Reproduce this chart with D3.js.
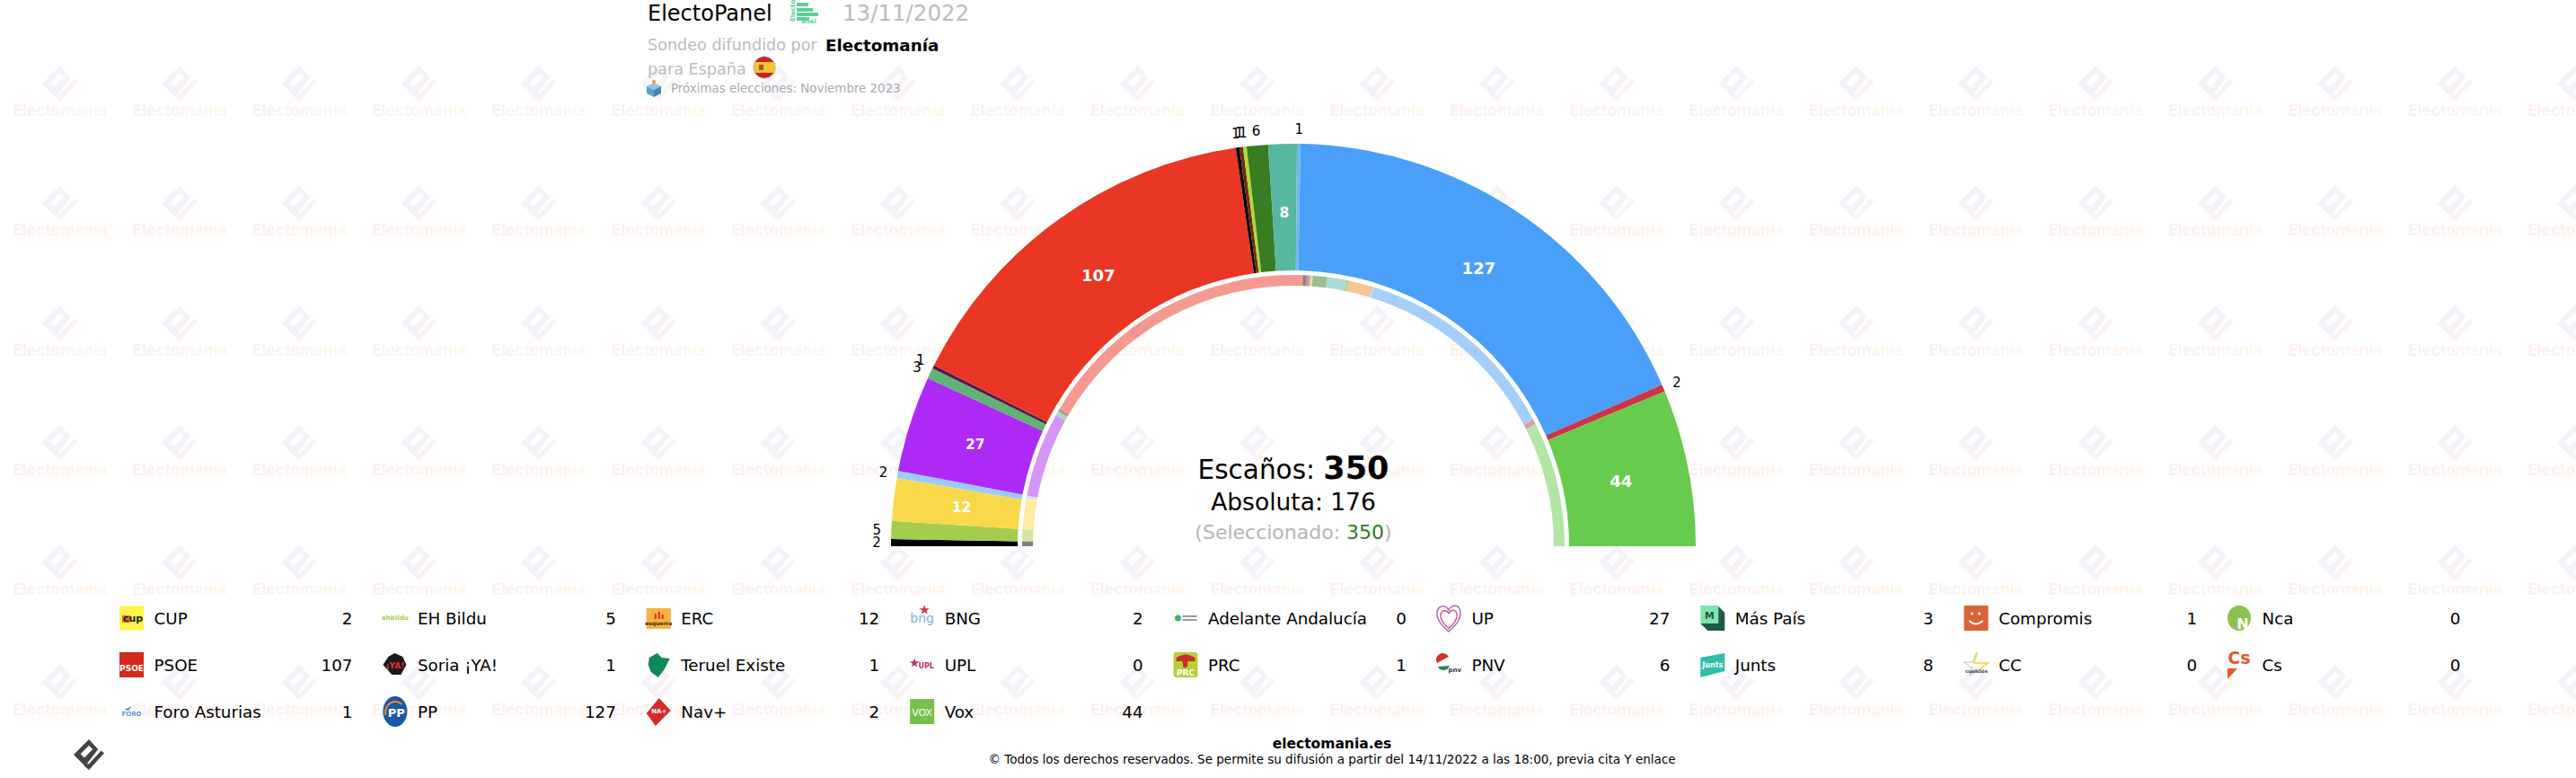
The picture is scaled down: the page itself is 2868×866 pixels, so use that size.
<!DOCTYPE html>
<html>
<head>
<meta charset="utf-8">
<title>ElectoPanel 13/11/2022</title>
<script src="https://cdn.jsdelivr.net/npm/d3@7"></script>
<style>
  html, body { margin: 0; padding: 0; background: #fff; }
  svg { display: block; }
  text { font-family: "DejaVu Sans", Verdana, sans-serif; }
</style>
</head>
<body>
<div id="chart"></div>
<script>
// Data
var parties = ["CUP", "EH Bildu", "ERC", "BNG", "Adelante Andalucía", "UP", "Más País", "Compromis", "Nca",
               "PSOE", "Soria ¡YA!", "Teruel Existe", "UPL", "PRC", "PNV", "Junts", "CC", "Cs",
               "Foro Asturias", "PP", "Nav+", "Vox"];
var seats = [2, 5, 12, 2, 0, 27, 3, 1, 0,
             107, 1, 1, 0, 1, 6, 8, 0, 0,
             1, 127, 2, 44];
// inner ring, previous election
var prevSeats = [2, 5, 13, 1, 0, 35, 2, 1, 0,
                 120, 1, 1, 1, 1, 6, 8, 1, 10,
                 1, 87, 2, 52];
var partyColors = ["#000000", "#a6cc4e", "#f9d949", "#99ccf9", "#3fb56a", "#ad2bf5", "#5fb375", "#5a1a4a", "#8cc152",
                   "#ea3624", "#000000", "#6b2c1a", "#b0297a", "#b4d92e", "#387d22", "#56b7a2", "#6f9a3c", "#f28b2c",
                   "#72b9e8", "#4a9ff8", "#cc3349", "#67cb4e"];

var width = 2868, height = 866;
var cx = 1440, cy = 608;

var svg = d3.select("#chart").append("svg")
  .attr("width", width)
  .attr("height", height);

var defs = svg.append("defs");
var wmGrad = defs.append("linearGradient").attr("id", "wmGrad");
wmGrad.append("stop").attr("offset", "0%").attr("stop-color", "#fbf0f1");
wmGrad.append("stop").attr("offset", "100%").attr("stop-color", "#fff6ec");

// logo shapes, drawn round (0,0)
var logoBox = "M0,-20L-20,0L-5,15L12,-7ZM-11,-1L0,-12L5,-7L-6,4Z";
var logoTick = "M-6,15L0,20L20,-2L16,-5L0,12L-3,12Z";

// watermark tiles
var tile = 400 / 3;
var wmCols = d3.range(0, 22), wmRows = d3.range(0, 6);
var wm = svg.append("g").attr("class", "watermark");
wmRows.forEach(function(r) {
  wmCols.forEach(function(c) {
    var g = wm.append("g").attr("transform", "translate(" + (tile / 2 + c * tile) + "," + (93 + r * tile) + ")");
    g.append("path").attr("d", logoBox).attr("fill", "#f5f2fa").attr("fill-rule", "evenodd");
    g.append("path").attr("d", logoTick).attr("fill", "#fbf3f3");
    g.append("text")
      .attr("y", 36)
      .attr("text-anchor", "middle")
      .style("font-family", "Inter, sans-serif")
      .style("font-weight", 700)
      .style("font-size", "17.5px")
      .attr("fill", "url(#wmGrad)")
      .text("Electomanía");
  });
});

// Hemicycle
var pie = d3.pie().sort(null).value(function(d) { return d; })
  .startAngle(-Math.PI / 2).endAngle(Math.PI / 2);

var outerArc = d3.arc().innerRadius(307).outerRadius(448);
var innerArc = d3.arc().innerRadius(290).outerRadius(302);
var insideArc = d3.arc().innerRadius(372).outerRadius(372);
var labelArc = d3.arc().innerRadius(464).outerRadius(464);

var chart = svg.append("g").attr("transform", "translate(" + cx + "," + cy + ")");

chart.selectAll(".prev")
  .data(pie(prevSeats))
  .enter()
  .append("path")
  .attr("class", "prev")
  .attr("d", innerArc)
  .attr("fill", function(d, i) { return partyColors[i]; })
  .attr("fill-opacity", 0.5);

chart.selectAll(".seat")
  .data(pie(seats))
  .enter()
  .append("path")
  .attr("class", "seat")
  .attr("d", outerArc)
  .attr("fill", function(d, i) { return partyColors[i]; });

// labels: big ones inside in white, the small ones outside
var seatArcs = pie(seats).filter(function(d) { return d.value > 0; });

chart.selectAll(".inLabel")
  .data(seatArcs.filter(function(d) { return d.value >= 8; }))
  .enter()
  .append("text")
  .attr("class", "inLabel")
  .attr("transform", function(d) { return "translate(" + insideArc.centroid(d) + ")"; })
  .attr("dy", "0.36em")
  .attr("text-anchor", "middle")
  .attr("fill", "#fff")
  .style("font-weight", "bold")
  .style("font-size", function(d) { return d.value >= 40 ? "18px" : "15.5px"; })
  .text(function(d) { return d.value; });

chart.selectAll(".outLabel")
  .data(seatArcs.filter(function(d) { return d.value < 8; }))
  .enter()
  .append("text")
  .attr("class", "outLabel")
  .attr("transform", function(d) { return "translate(" + labelArc.centroid(d) + ")"; })
  .attr("dy", "0.36em")
  .attr("text-anchor", "middle")
  .attr("fill", "#000")
  .style("font-size", "15px")
  .text(function(d) { return d.value; });

// Center text
var total = d3.sum(seats);
var centerText = svg.append("g").attr("text-anchor", "middle").attr("transform", "translate(" + cx + ",0)");
var t1 = centerText.append("text").attr("y", 533).style("font-size", "29.5px").attr("fill", "#000");
t1.append("tspan").text("Escaños: ");
t1.append("tspan").style("font-weight", "bold").style("font-size", "35px").text(total);
centerText.append("text").attr("y", 568).style("font-size", "26.5px").attr("fill", "#000").text("Absoluta: 176");
var t3 = centerText.append("text").attr("y", 600).style("font-size", "22px").attr("fill", "#b5b5b5");
t3.append("tspan").text("(Seleccionado: ");
t3.append("tspan").attr("fill", "#2d7d1e").text(total);
t3.append("tspan").text(")");

// Header
var header = svg.append("g");
header.append("text").attr("x", 721).attr("y", 23).style("font-size", "24px").attr("fill", "#000").text("ElectoPanel");
header.append("text").attr("x", 938).attr("y", 23).style("font-size", "24.5px").attr("fill", "#bbb").text("13/11/2022");
header.append("text").attr("x", 721).attr("y", 56).style("font-size", "17.6px").attr("fill", "#bbb").text("Sondeo difundido por");
header.append("text").attr("x", 919).attr("y", 57).style("font-size", "18.3px").style("font-weight", "bold").attr("fill", "#000").text("Electomanía");
header.append("text").attr("x", 721).attr("y", 83).style("font-size", "17.6px").attr("fill", "#bbb").text("para España");
header.append("text").attr("x", 747).attr("y", 103).style("font-size", "13.4px").attr("fill", "#aaa").text("Próximas elecciones: Noviembre 2023");

// ElectoPanel mark
var mark = header.append("g").attr("transform", "translate(879,2)").attr("fill", "#5ccf98");
[[8, 1, 13, 3], [8, 7, 18, 3], [8, 12, 24, 3], [8, 17, 14, 3]].forEach(function(b) {
  mark.append("rect").attr("x", b[0]).attr("y", b[1]).attr("width", b[2]).attr("height", b[3] + 1);
});
mark.append("text").attr("transform", "translate(6,22) rotate(-90)").style("font-size", "7px").style("font-weight", "bold").text("Electo");
mark.append("text").attr("x", 13).attr("y", 24).style("font-size", "7px").style("font-weight", "bold").text("anel");

// flag
defs.append("clipPath").attr("id", "flagClip").append("circle").attr("r", 12);
var flag = header.append("g").attr("transform", "translate(851,75)");
var flagG = flag.append("g").attr("clip-path", "url(#flagClip)");
flagG.append("rect").attr("x", -12).attr("y", -12).attr("width", 24).attr("height", 24).attr("fill", "#c8232c");
flagG.append("rect").attr("x", -12).attr("y", -6).attr("width", 24).attr("height", 12).attr("fill", "#f5c62f");
flagG.append("rect").attr("x", -6).attr("y", -3).attr("width", 5).attr("height", 6).attr("fill", "#a5562c");
flag.append("circle").attr("r", 12.5).attr("fill", "none").attr("stroke", "#ccc").attr("stroke-width", 1);

// ballot box
var box = header.append("g").attr("transform", "translate(728,98)");
box.append("path").attr("d", "M0,-6L8,-2L0,2L-8,-2Z").attr("fill", "#8fc7e2");
box.append("path").attr("d", "M-8,-2L0,2L0,10L-8,6Z").attr("fill", "#5ba3c9");
box.append("path").attr("d", "M8,-2L0,2L0,10L8,6Z").attr("fill", "#3f86ad");
box.append("circle").attr("cy", -7).attr("r", 2).attr("fill", "#f0903a");

// Legend
var legendX = d3.scaleLinear().domain([0, 8]).range([133, 2480]);
var legendY = d3.scaleLinear().domain([0, 2]).range([688, 792]);

function smallText(g, txt, x, y, size, color, weight) {
  g.append("text").attr("x", x).attr("y", y).style("font-size", size + "px")
    .style("font-weight", weight || "normal")
    .attr("text-anchor", "middle").attr("fill", color).text(txt);
}

// rough versions of the party logos, 27 wide from x=0, centred on y=0
function drawLogo(g, name) {
  if (name == "CUP") {
    g.append("rect").attr("y", -13.5).attr("width", 27).attr("height", 27).attr("fill", "#fdf54a");
    g.append("rect").attr("x", 3).attr("y", -3).attr("width", 9).attr("height", 8).attr("fill", "#e0702a");
    smallText(g, "cup", 15, 4, 11, "#222", "bold");
  } else if (name == "EH Bildu") {
    smallText(g, "ehbildu", 13.5, 2, 7, "#a6cc4e", "bold");
  } else if (name == "ERC") {
    g.append("rect").attr("y", -11).attr("width", 27).attr("height", 23).attr("fill", "#f7b13c");
    g.append("rect").attr("x", 9).attr("y", -5).attr("width", 2).attr("height", 6).attr("fill", "#c8372a");
    g.append("rect").attr("x", 13).attr("y", -7).attr("width", 2).attr("height", 8).attr("fill", "#c8372a");
    g.append("rect").attr("x", 17).attr("y", -4).attr("width", 2).attr("height", 5).attr("fill", "#c8372a");
    smallText(g, "esquerra", 13.5, 8, 6, "#3a2a1a", "bold");
  } else if (name == "BNG") {
    g.append("path").attr("d", d3.symbol(d3.symbolStar, 40)()).attr("transform", "translate(16,-9)").attr("fill", "#d8324a");
    smallText(g, "bng", 13.5, 5, 14, "#7ab4e0");
  } else if (name == "Adelante Andalucía") {
    g.append("circle").attr("cx", 5).attr("r", 3.5).attr("fill", "#3fb56a");
    g.append("rect").attr("x", 10).attr("y", -3).attr("width", 16).attr("height", 2).attr("fill", "#999");
    g.append("rect").attr("x", 10).attr("y", 1).attr("width", 16).attr("height", 2).attr("fill", "#999");
  } else if (name == "UP") {
    var heart = "M13,15C3,6 0,1 0,-5C0,-14 9,-16 13,-9C17,-16 26,-16 26,-5C26,1 23,6 13,15Z";
    g.append("path").attr("d", heart).attr("fill", "none").attr("stroke", "#a06cc0").attr("stroke-width", 1.5);
    g.append("path").attr("d", heart).attr("transform", "translate(4,1) scale(0.7)").attr("fill", "none").attr("stroke", "#d0527a").attr("stroke-width", 2);
  } else if (name == "Más País") {
    g.append("path").attr("d", "M0,6L8,14L27,14L27,-6L19,-14L19,6Z").attr("fill", "#1f5a44");
    g.append("rect").attr("y", -14).attr("width", 20).attr("height", 20).attr("fill", "#7fe3ae");
    smallText(g, "M", 10, 1, 11, "#1f5a44", "bold");
  } else if (name == "Compromis") {
    g.append("rect").attr("y", -14).attr("width", 27).attr("height", 28).attr("rx", 1).attr("fill", "#d8633a");
    g.append("path").attr("d", "M6,3Q13,10 21,3").attr("fill", "none").attr("stroke", "#fff").attr("stroke-width", 2);
    g.append("circle").attr("cx", 9).attr("cy", -5).attr("r", 1.5).attr("fill", "#fff");
    g.append("circle").attr("cx", 17).attr("cy", -5).attr("r", 1.5).attr("fill", "#fff");
  } else if (name == "Nca") {
    g.append("ellipse").attr("cx", 13).attr("rx", 13).attr("ry", 14).attr("fill", "#8cc152");
    smallText(g, "N", 17, 12, 16, "#fff", "bold");
  } else if (name == "PSOE") {
    g.append("rect").attr("y", -14).attr("width", 27).attr("height", 28).attr("fill", "#d3291f");
    smallText(g, "PSOE", 13.5, 7, 9, "#fff", "bold");
  } else if (name == "Soria ¡YA!") {
    g.append("path").attr("d", "M0,0L6,-9L13,-13L22,-9L26,0L20,11L10,11Z").attr("fill", "#1a1a1a");
    smallText(g, "¡YA!", 13.5, 4, 9, "#e03030", "bold");
  } else if (name == "Teruel Existe") {
    g.append("path").attr("d", "M3,-8L12,-13L17,-8L26,-7L20,5L13,14L5,8L2,0Z").attr("fill", "#11875a");
  } else if (name == "UPL") {
    g.append("path").attr("d", d3.symbol(d3.symbolStar, 36)()).attr("transform", "translate(5,-2)").attr("fill", "#b8306f");
    smallText(g, "UPL", 18, 4, 8, "#b8306f", "bold");
  } else if (name == "PRC") {
    g.append("rect").attr("y", -14).attr("width", 27).attr("height", 28).attr("rx", 3).attr("fill", "#b6cf3a");
    g.append("path").attr("d", "M3,-8Q13,-15 24,-8L24,-4L16,-4L15,3L11,3L10,-4L3,-4Z").attr("fill", "#c8302a");
    smallText(g, "PRC", 13.5, 12, 9, "#fff", "bold");
  } else if (name == "PNV") {
    g.append("path").attr("d", "M0,-2A7,7 0 0 1 13,-9L0,-2Z").attr("fill", "#d8302a");
    g.append("path").attr("d", "M1,2A7,7 0 0 0 14,1L1,2Z").attr("fill", "#1e8a4a");
    smallText(g, "pnv", 20, 8, 7, "#333", "bold");
  } else if (name == "Junts") {
    g.append("path").attr("d", "M0,-8L27,-13L27,7L0,14Z").attr("fill", "#2dbfa8");
    smallText(g, "Junts", 13.5, 3, 8, "#fff", "bold");
  } else if (name == "CC") {
    g.append("path").attr("d", "M14,-14L10,-3L0,-3L9,3L7,11L20,4").attr("fill", "none").attr("stroke", "#cfd4d8").attr("stroke-width", 1.5);
    g.append("path").attr("d", "M15,-14L11,-2L27,-2L17,5").attr("fill", "none").attr("stroke", "#f5d442").attr("stroke-width", 1.5);
    smallText(g, "coalición", 14, 9, 5, "#333", "bold");
  } else if (name == "Cs") {
    smallText(g, "Cs", 13, -1, 19, "#e8592a", "bold");
    g.append("path").attr("d", "M0,4L11,4L0,16Z").attr("fill", "#e8592a");
  } else if (name == "Foro Asturias") {
    g.append("path").attr("d", "M5,-2L14,-6L10,-1Z").attr("fill", "#5b9bd5");
    smallText(g, "FORO", 13.5, 5, 7, "#5b9bd5", "bold");
  } else if (name == "PP") {
    g.append("ellipse").attr("cx", 13.5).attr("rx", 13.5).attr("ry", 17).attr("fill", "#1a58a8");
    g.append("path").attr("d", "M3,4A11,12 0 0 1 21,-8").attr("fill", "none").attr("stroke", "#f08a2a").attr("stroke-width", 2);
    smallText(g, "PP", 15, 6, 13, "#fff", "bold");
  } else if (name == "Nav+") {
    g.append("path").attr("d", "M0,2L14,-15L27,-1L10,16Z").attr("fill", "#d62a2a");
    smallText(g, "NA+", 14, 2, 7, "#fff", "bold");
  } else if (name == "Vox") {
    g.append("rect").attr("y", -14).attr("width", 27).attr("height", 28).attr("fill", "#78c04e");
    smallText(g, "VOX", 13.5, 5, 11, "#fff");
  }
}

var legend = svg.selectAll(".legend")
  .data(parties)
  .enter()
  .append("g")
  .attr("class", "legend")
  .attr("transform", function(d, i) {
    return "translate(" + legendX(i % 9) + "," + legendY(Math.floor(i / 9)) + ")";
  });

legend.each(function(d) { drawLogo(d3.select(this).append("g"), d); });

legend.append("text")
  .attr("class", "legendName")
  .attr("x", 38.5)
  .attr("y", 7)
  .style("font-size", "18.3px")
  .attr("fill", "#000")
  .text(function(d) { return d; });

legend.append("text")
  .attr("class", "legendValue")
  .attr("x", 259.5)
  .attr("y", 7)
  .attr("text-anchor", "end")
  .style("font-size", "18.3px")
  .attr("fill", "#000")
  .text(function(d, i) { return seats[i]; });

// Footer
svg.append("text").attr("x", 1483).attr("y", 833).attr("text-anchor", "middle")
  .style("font-size", "15.5px").style("font-weight", "bold").attr("fill", "#000").text("electomania.es");
svg.append("text").attr("x", 1483).attr("y", 850).attr("text-anchor", "middle")
  .style("font-size", "13.5px").attr("fill", "#000")
  .text("© Todos los derechos reservados. Se permite su difusión a partir del 14/11/2022 a las 18:00, previa cita Y enlace");

// logo bottom left
var footLogo = svg.append("g").attr("transform", "translate(99,840) scale(0.85)");
footLogo.append("path").attr("d", logoBox).attr("fill", "#444").attr("fill-rule", "evenodd");
footLogo.append("path").attr("d", logoTick).attr("fill", "#444");
</script>
</body>
</html>
